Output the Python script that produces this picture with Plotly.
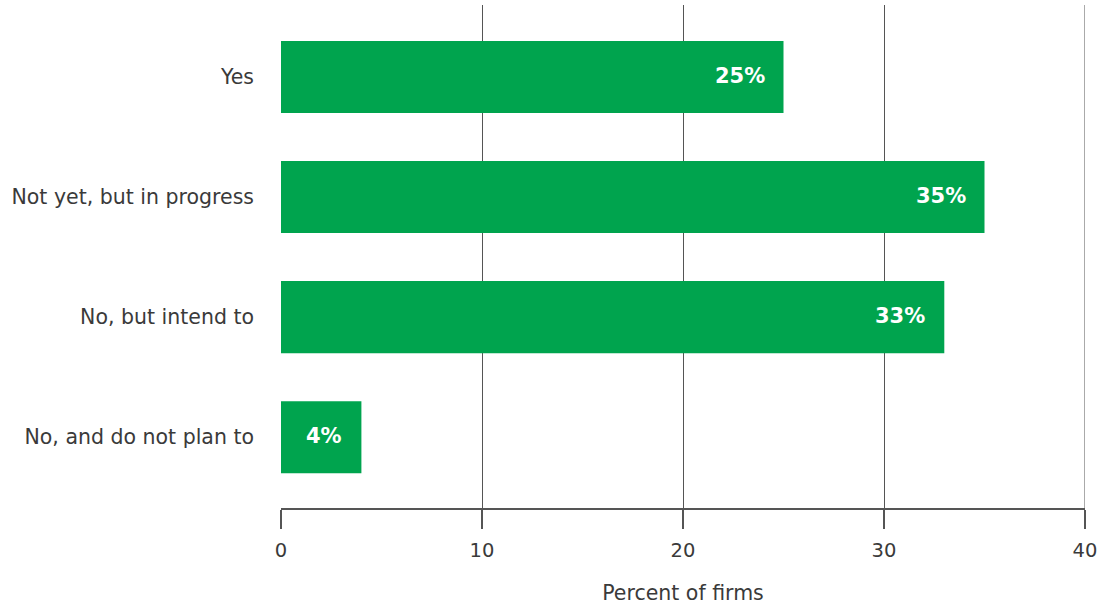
import plotly.graph_objects as go

categories = ["Yes", "Not yet, but in progress", "No, but intend to", "No, and do not plan to"]
values = [25, 35, 33, 4]
x_ticks = [0, 10, 20, 30, 40]

FONT = "DejaVu Sans"
GRID = "#555555"
fig = go.Figure()
fig.add_trace(go.Bar(
    y=categories, x=values, orientation="h",
    marker=dict(color="#00A44E", line=dict(width=0)),
    width=0.6, hoverinfo="skip",
))

for c, v in zip(categories, values):
    fig.add_annotation(x=v, y=c, text=f"<b>{v}%</b>", showarrow=False,
                       xanchor="right", xshift=-17, yshift=1,
                       font=dict(family=FONT, size=21, color="white"))

# gridline at the last tick (plotly skips the one on the plot edge)
fig.add_shape(type="line", xref="x", yref="paper", x0=x_ticks[-1], x1=x_ticks[-1],
              y0=0, y1=1, line=dict(color=GRID, width=1), layer="below")

fig.update_layout(
    width=1099, height=605,
    margin=dict(l=281, r=14, t=5, b=97),
    plot_bgcolor="white", paper_bgcolor="white",
    font=dict(family=FONT, size=19, color="#3a3a3a"),
    showlegend=False,
    bargap=0.4,
)
fig.update_xaxes(
    range=[0, 40], tickvals=x_ticks, showgrid=True, gridcolor=GRID, gridwidth=1,
    showline=True, linecolor=GRID, linewidth=1.5,
    ticks="outside", ticklen=19, tickcolor=GRID, tickwidth=1.5,
    tickfont=dict(size=19.5, color="#3a3a3a"), ticklabeloverflow="allow",
    ticklabelstandoff=5, automargin=False,
    title=dict(text="Percent of firms", font=dict(size=20.5, color="#3a3a3a"), standoff=27),
    zeroline=False,
)
fig.update_yaxes(
    categoryorder="array", categoryarray=categories,
    range=[3.59, -0.6], showgrid=False, showline=False, zeroline=False,
    ticks="", ticklabelstandoff=26, automargin=False,
    tickfont=dict(size=20.5, color="#3a3a3a"),
)

fig.write_html("out.html", config={"displayModeBar": False},
               post_script="document.body.style.margin='0';document.body.style.overflow='hidden';")
